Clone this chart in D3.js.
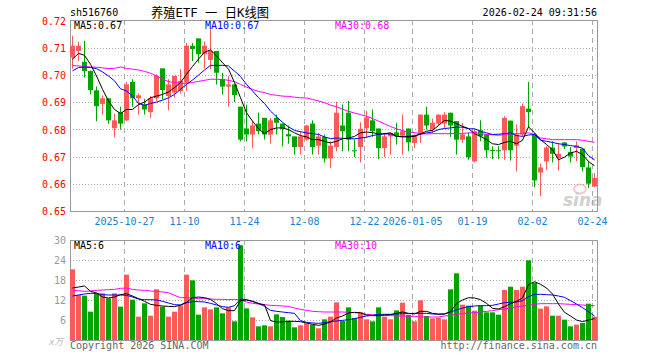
<!DOCTYPE html>
<html>
<head>
<meta charset="utf-8">
<script src="https://cdn.jsdelivr.net/npm/d3@7"></script>
<style>
  body { margin: 0; background: #fff; }
  svg text { font-family: "DejaVu Sans Mono", "Liberation Mono", monospace; font-size: 10px; }
</style>
</head>
<body>
<svg></svg>
<script>
// trading days shown on the chart
var dates = [
  '2025-10-14','2025-10-15','2025-10-16','2025-10-17','2025-10-20','2025-10-21','2025-10-22','2025-10-23','2025-10-24',
  '2025-10-27','2025-10-28','2025-10-29','2025-10-30','2025-10-31',
  '2025-11-03','2025-11-04','2025-11-05','2025-11-06','2025-11-07','2025-11-10','2025-11-11','2025-11-12','2025-11-13','2025-11-14',
  '2025-11-17','2025-11-18','2025-11-19','2025-11-20','2025-11-21','2025-11-24','2025-11-25','2025-11-26','2025-11-27','2025-11-28',
  '2025-12-01','2025-12-02','2025-12-03','2025-12-04','2025-12-05','2025-12-08','2025-12-09','2025-12-10','2025-12-11','2025-12-12',
  '2025-12-15','2025-12-16','2025-12-17','2025-12-18','2025-12-19','2025-12-22','2025-12-23','2025-12-24','2025-12-25','2025-12-26',
  '2025-12-29','2025-12-30','2025-12-31',
  '2026-01-05','2026-01-06','2026-01-07','2026-01-08','2026-01-09','2026-01-12','2026-01-13','2026-01-14','2026-01-15','2026-01-16',
  '2026-01-19','2026-01-20','2026-01-21','2026-01-22','2026-01-23','2026-01-26','2026-01-27','2026-01-28','2026-01-29','2026-01-30',
  '2026-02-02','2026-02-03','2026-02-04','2026-02-05','2026-02-06','2026-02-09','2026-02-10','2026-02-11','2026-02-12','2026-02-13',
  '2026-02-24'
];

var open = [
  0.7066,0.7090,0.7050,0.7016,0.6945,0.6895,0.6916,0.6806,0.6865,0.6835,
  0.6976,0.6916,0.6893,0.6865,0.6916,0.7026,0.6924,0.6937,0.6943,0.6974,
  0.7109,0.7136,0.7078,0.7057,0.7090,0.6986,0.6959,0.6967,0.6885,0.6805,
  0.6783,0.6823,0.6844,0.6783,0.6844,0.6823,0.6784,0.6776,0.6737,0.6764,
  0.6823,0.6742,0.6774,0.6695,0.6737,0.6816,0.6863,0.6725,0.6737,0.6806,
  0.6835,0.6805,0.6733,0.6776,0.6791,0.6779,0.6805,0.6752,0.6783,0.6856,
  0.6801,0.6823,0.6823,0.6863,0.6832,0.6764,0.6776,0.6684,0.6798,0.6783,
  0.6726,0.6725,0.6725,0.6834,0.6742,0.6783,0.6878,0.6783,0.6643,0.6684,
  0.6735,0.6697,0.6754,0.6719,0.6733,0.6731,0.6662,0.6592
];
var high = [
  0.7146,0.7124,0.7127,0.7018,0.6959,0.6927,0.6916,0.6859,0.6885,0.6976,
  0.6986,0.6934,0.6914,0.6924,0.7004,0.7026,0.6986,0.6998,0.7023,0.7119,
  0.7119,0.7136,0.7125,0.7171,0.7090,0.7010,0.6998,0.6967,0.6885,0.6893,
  0.6832,0.6863,0.6844,0.6844,0.6856,0.6823,0.6816,0.6776,0.6795,0.6818,
  0.6835,0.6789,0.6783,0.6758,0.6903,0.6893,0.6906,0.6764,0.6828,0.6870,
  0.6875,0.6805,0.6789,0.6789,0.6826,0.6856,0.6805,0.6783,0.6856,0.6885,
  0.6841,0.6856,0.6865,0.6863,0.6832,0.6826,0.6790,0.6804,0.6835,0.6783,
  0.6739,0.6740,0.6850,0.6834,0.6820,0.6897,0.6976,0.6789,0.6676,0.6740,
  0.6758,0.6752,0.6754,0.6737,0.6758,0.6731,0.6684,0.6641
];
var low = [
  0.7025,0.7053,0.6992,0.6930,0.6832,0.6856,0.6822,0.6773,0.6801,0.6832,
  0.6885,0.6856,0.6856,0.6844,0.6906,0.6912,0.6872,0.6918,0.6934,0.6943,
  0.7053,0.7047,0.7025,0.7023,0.6967,0.6930,0.6885,0.6902,0.6758,0.6758,
  0.6733,0.6783,0.6764,0.6749,0.6783,0.6739,0.6749,0.6709,0.6709,0.6760,
  0.6709,0.6709,0.6680,0.6660,0.6721,0.6721,0.6721,0.6700,0.6680,0.6770,
  0.6774,0.6693,0.6700,0.6709,0.6746,0.6709,0.6721,0.6733,0.6752,0.6801,
  0.6789,0.6816,0.6807,0.6774,0.6709,0.6752,0.6690,0.6680,0.6758,0.6697,
  0.6693,0.6693,0.6690,0.6687,0.6647,0.6776,0.6807,0.6589,0.6557,0.6653,
  0.6680,0.6651,0.6730,0.6680,0.6684,0.6647,0.6586,0.6589
];
var close = [
  0.7109,0.7109,0.7016,0.6946,0.6887,0.6916,0.6835,0.6835,0.6823,0.6967,
  0.6916,0.6927,0.6875,0.6916,0.6998,0.6946,0.6967,0.6998,0.6980,0.7109,
  0.7097,0.7078,0.7109,0.7090,0.7010,0.6959,0.6967,0.6928,0.6764,0.6783,
  0.6816,0.6795,0.6783,0.6835,0.6826,0.6804,0.6776,0.6737,0.6776,0.6816,
  0.6737,0.6776,0.6695,0.6742,0.6863,0.6795,0.6764,0.6721,0.6804,0.6846,
  0.6795,0.6733,0.6776,0.6789,0.6776,0.6795,0.6754,0.6779,0.6856,0.6816,
  0.6826,0.6856,0.6856,0.6816,0.6764,0.6783,0.6700,0.6795,0.6776,0.6725,
  0.6724,0.6723,0.6844,0.6725,0.6783,0.6887,0.6865,0.6614,0.6662,0.6735,
  0.6712,0.6712,0.6739,0.6702,0.6743,0.6663,0.6602,0.6623
];

var ma5 = [
  0.7060,0.7081,0.7074,0.7041,0.6998,0.6949,0.6906,0.6875,0.6860,0.6875,
  0.6875,0.6893,0.6902,0.6918,0.6924,0.6930,0.6939,0.6955,0.6974,0.7004,
  0.7033,0.7060,0.7085,0.7094,0.7072,0.7047,0.7023,0.6974,0.6918,0.6863,
  0.6832,0.6804,0.6786,0.6801,0.6807,0.6807,0.6801,0.6789,0.6779,0.6774,
  0.6764,0.6764,0.6758,0.6752,0.6758,0.6767,0.6770,0.6776,0.6789,0.6792,
  0.6790,0.6785,0.6786,0.6789,0.6776,0.6774,0.6774,0.6776,0.6785,0.6795,
  0.6798,0.6816,0.6835,0.6832,0.6823,0.6813,0.6805,0.6786,0.6776,0.6764,
  0.6749,0.6746,0.6754,0.6758,0.6749,0.6762,0.6811,0.6789,0.6764,0.6746,
  0.6727,0.6690,0.6700,0.6715,0.6721,0.6709,0.6684,0.6668
];
var ma10 = [
  0.7017,0.7029,0.7031,0.7029,0.7025,0.7013,0.6998,0.6980,0.6951,0.6943,
  0.6924,0.6897,0.6890,0.6897,0.6902,0.6909,0.6918,0.6930,0.6949,0.6967,
  0.6983,0.7001,0.7020,0.7037,0.7037,0.7037,0.7035,0.7016,0.6996,0.6967,
  0.6943,0.6918,0.6897,0.6869,0.6848,0.6828,0.6811,0.6798,0.6793,0.6789,
  0.6786,0.6783,0.6774,0.6768,0.6770,0.6769,0.6768,0.6767,0.6770,0.6773,
  0.6779,0.6783,0.6785,0.6785,0.6776,0.6776,0.6776,0.6779,0.6784,0.6789,
  0.6792,0.6801,0.6805,0.6807,0.6810,0.6810,0.6804,0.6804,0.6795,0.6789,
  0.6783,0.6784,0.6786,0.6789,0.6779,0.6776,0.6781,0.6783,0.6762,0.6758,
  0.6754,0.6749,0.6746,0.6742,0.6739,0.6733,0.6705,0.6690
];
var ma30 = [
  0.7036,0.7035,0.7032,0.7031,0.7030,0.7028,0.7025,0.7026,0.7031,0.7026,
  0.7023,0.7020,0.7015,0.7008,0.6998,0.6986,0.6977,0.6974,0.6971,0.6971,
  0.6974,0.6978,0.6982,0.6986,0.6986,0.6985,0.6982,0.6977,0.6967,0.6957,
  0.6949,0.6941,0.6937,0.6930,0.6927,0.6924,0.6923,0.6920,0.6918,0.6917,
  0.6912,0.6906,0.6900,0.6891,0.6885,0.6876,0.6868,0.6862,0.6856,0.6850,
  0.6842,0.6832,0.6822,0.6812,0.6804,0.6797,0.6792,0.6790,0.6786,0.6785,
  0.6786,0.6786,0.6786,0.6786,0.6786,0.6786,0.6789,0.6790,0.6786,0.6783,
  0.6782,0.6780,0.6783,0.6785,0.6786,0.6786,0.6789,0.6783,0.6770,0.6767,
  0.6764,0.6764,0.6764,0.6764,0.6764,0.6762,0.6758,0.6754
];

// volume, 万手
var vol = [
  21.2,13.5,13.3,8.5,14.0,14.0,12.5,14.0,10.0,19.6,
  12.1,7.0,11.0,7.3,15.2,10.0,7.0,8.5,10.4,19.6,
  17.9,7.6,9.8,9.2,9.8,8.0,9.8,5.6,28.4,9.5,
  6.8,4.1,4.4,4.1,7.7,6.9,5.8,3.8,4.4,5.0,
  4.6,3.5,6.2,7.0,11.3,5.7,9.8,6.6,8.3,6.2,
  5.6,9.8,7.0,6.2,8.9,11.2,7.5,5.6,11.9,7.2,
  6.5,6.7,6.2,15.2,20.0,10.6,10.3,8.8,10.3,8.3,
  8.3,7.6,15.0,16.0,15.0,16.0,23.9,17.2,9.4,10.1,
  7.3,7.3,6.1,4.1,4.6,5.1,10.9,7.0
];
var volMa5 = [
  15.6,15.9,16.2,14.6,14.1,12.9,12.6,12.9,13.6,13.9,
  13.2,12.4,11.6,10.7,10.4,10.2,10.1,10.0,10.5,11.3,
  12.7,12.9,12.7,12.2,10.9,9.4,8.8,8.8,11.8,12.0,
  11.6,10.9,10.6,5.8,5.4,5.4,5.6,5.6,5.5,5.1,
  4.7,4.4,4.8,5.4,6.6,7.2,8.1,8.3,8.2,7.5,
  7.3,7.3,7.5,7.6,8.0,8.4,8.0,7.8,8.6,8.6,
  8.0,7.7,7.8,8.5,10.9,12.0,12.7,12.6,12.1,11.0,
  9.5,9.3,10.0,10.9,11.6,12.6,16.6,17.5,16.7,15.6,
  13.8,10.8,8.3,7.2,6.0,5.5,6.0,6.4
];
var volMa10 = [
  13.2,13.5,13.8,14.0,14.0,13.6,13.5,13.5,13.5,13.4,
  12.9,12.3,12.1,12.1,12.0,11.6,11.1,10.6,10.5,11.2,
  11.5,11.5,11.4,11.0,10.5,10.0,9.8,10.3,12.3,12.1,
  11.6,11.0,10.1,8.9,8.6,8.4,8.2,8.0,5.8,5.3,
  5.1,5.0,5.2,5.5,5.7,5.9,6.1,6.4,6.8,7.2,
  7.4,7.7,7.7,7.7,7.8,7.9,7.9,8.0,8.0,8.0,
  7.8,7.8,7.8,8.4,9.0,9.6,10.0,10.2,10.3,10.3,
  10.4,10.8,11.2,11.3,11.4,11.8,13.0,13.7,13.7,13.6,
  13.5,13.2,12.8,11.8,10.8,9.7,8.5,7.2
];
var volMa30 = [
  14.9,14.8,14.6,14.7,14.9,15.0,15.1,15.2,15.5,15.6,
  15.2,15.0,14.9,14.7,14.6,14.4,14.2,13.4,12.7,12.7,
  12.6,12.4,12.4,12.3,12.2,12.2,12.1,12.2,12.0,11.4,
  11.0,10.8,10.6,10.4,10.3,10.2,10.1,9.6,9.2,8.9,
  8.6,8.5,8.4,8.4,8.4,8.4,8.3,8.2,8.0,7.7,
  7.6,7.4,7.4,7.3,7.2,7.2,7.1,7.1,6.9,6.9,
  6.9,6.9,7.2,7.4,7.7,7.9,8.1,8.2,8.4,8.6,
  8.8,9.1,9.3,9.6,10.0,10.2,10.4,10.7,10.9,10.9,
  10.9,10.9,10.8,10.7,10.6,10.5,10.4,10.3
];

var priceTicks = [0.65, 0.66, 0.67, 0.68, 0.69, 0.70, 0.71, 0.72];
var volTicks = [6, 12, 18, 24, 30];
var tickDates = ['2025-10-27','2025-11-10','2025-11-24','2025-12-08','2025-12-22','2026-01-05','2026-01-19','2026-02-02','2026-02-24'];
var tickLabels = ['2025-10-27','11-10','11-24','12-08','12-22','2026-01-05','01-19','02-02','02-24'];

var RED = '#fa5a5a', GREEN = '#02a402', GRID = '#aaa', BORDER = '#999';

var svg = d3.select('svg').attr('width', 660).attr('height', 360);

var x = d3.scaleBand().domain(dates).range([70, 597]).paddingInner(1/6);
var yp = d3.scaleLinear().domain([0.65, 0.72]).range([211.5, 21]);
var yv = d3.scaleLinear().domain([0, 30]).range([340, 240]);

var mid = function(d) { return x(d) + 2.5; };
var crisp = function(v) { return Math.floor(v) + 0.5; };

// header
svg.append('text').attr('x', 70).attr('y', 16).attr('fill', '#000').text('sh516760');
svg.append('text').attr('x', 151).attr('y', 17).attr('fill', '#000')
    .style('font-size', '13px')
    .attr('textLength', 118).attr('lengthAdjust', 'spacingAndGlyphs')
    .style('font-family', '"DejaVu Sans Mono", "Noto Sans CJK SC", monospace')
    .text('养殖ETF 一 日K线图');
svg.append('text').attr('x', 597).attr('y', 16).attr('text-anchor', 'end').attr('fill', '#000')
    .text('2026-02-24 09:31:56');

// panels: grid + frame
function panel(top, bottom, yScale, ticks) {
  var g = svg.append('g');
  g.selectAll('.hg').data(ticks).enter().append('line')
      .attr('x1', 70).attr('x2', 597)
      .attr('y1', function(d) { return crisp(yScale(d)); })
      .attr('y2', function(d) { return crisp(yScale(d)); })
      .attr('stroke', GRID).attr('stroke-dasharray', '1,2');
  g.selectAll('.vg').data(tickDates).enter().append('line')
      .attr('x1', function(d) { return x(d) + 0.5; })
      .attr('x2', function(d) { return x(d) + 0.5; })
      .attr('y1', top).attr('y2', bottom)
      .attr('stroke', GRID).attr('stroke-dasharray', '5,4');
  g.append('rect').attr('x', 70.5).attr('y', top + 0.5)
      .attr('width', 527).attr('height', bottom - top)
      .attr('fill', 'none').attr('stroke', BORDER);
  return g;
}
panel(20, 211, yp, priceTicks.slice(1, -1));
panel(240, 340, yv, volTicks.slice(0, -1));

// axes
var ax = svg.append('g').attr('transform', 'translate(70,0)')
    .call(d3.axisLeft(yp).tickValues(priceTicks).tickFormat(d3.format('.2f')).tickSize(0).tickPadding(4));
ax.select('.domain').remove();
ax.selectAll('text').attr('fill', '#f00').style('font-family', '"DejaVu Sans Mono", monospace').style('font-size', '10px');

var av = svg.append('g').attr('transform', 'translate(70,0)')
    .call(d3.axisLeft(yv).tickValues(volTicks).tickSize(0).tickPadding(4));
av.select('.domain').remove();
av.selectAll('text').attr('fill', '#999').style('font-family', '"DejaVu Sans Mono", monospace').style('font-size', '10px');

svg.selectAll('.dl').data(tickDates).enter().append('text')
    .attr('x', function(d) { return x(d) + 0.5; })
    .attr('y', 225)
    .attr('text-anchor', 'middle')
    .attr('fill', '#1a7fd4')
    .text(function(d, i) { return tickLabels[i]; });

// watermark
var wm = svg.append('g').attr('opacity', 0.45);
wm.append('ellipse').attr('cx', 580).attr('cy', 189).attr('rx', 6).attr('ry', 4.5)
    .attr('fill', 'none').attr('stroke', '#e88').attr('stroke-width', 2);
wm.append('text').attr('x', 563).attr('y', 206)
    .style('font-family', '"DejaVu Sans", sans-serif').style('font-size', '17px')
    .style('font-weight', 'bold').style('font-style', 'italic')
    .attr('fill', '#999').text('sina');

// candles
var idx = d3.range(dates.length);
var candles = svg.append('g');
candles.selectAll('line').data(idx).enter().append('line')
    .attr('x1', function(i) { return mid(dates[i]); })
    .attr('x2', function(i) { return mid(dates[i]); })
    .attr('y1', function(i) { return yp(high[i]); })
    .attr('y2', function(i) { return yp(low[i]); })
    .attr('stroke', function(i) { return close[i] > open[i] ? RED : GREEN; });
candles.selectAll('rect').data(idx).enter().append('rect')
    .attr('x', function(i) { return x(dates[i]); })
    .attr('width', x.bandwidth())
    .attr('y', function(i) { return yp(Math.max(open[i], close[i])); })
    .attr('height', function(i) { return Math.max(1, Math.abs(yp(open[i]) - yp(close[i]))); })
    .attr('fill', function(i) { return close[i] > open[i] ? RED : GREEN; });

// volume bars
svg.append('g').selectAll('rect').data(idx).enter().append('rect')
    .attr('x', function(i) { return x(dates[i]); })
    .attr('width', x.bandwidth())
    .attr('y', function(i) { return yv(vol[i]); })
    .attr('height', function(i) { return yv(0) - yv(vol[i]); })
    .attr('fill', function(i) { return close[i] > open[i] ? RED : GREEN; });

// moving averages
function maLine(values, yScale, color) {
  var line = d3.line()
      .x(function(v, i) { return mid(dates[i]); })
      .y(function(v) { return yScale(v); });
  svg.append('path').datum(values)
      .attr('d', line)
      .attr('fill', 'none')
      .attr('stroke', color)
      .attr('stroke-width', 1);
}
maLine(ma30, yp, '#f0f');
maLine(ma10, yp, '#00f');
maLine(ma5, yp, '#000');
maLine(volMa30, yv, '#f0f');
maLine(volMa10, yv, '#00f');
maLine(volMa5, yv, '#000');

// legends
var legends = [
  { x: 74, y: 29, c: '#000', t: 'MA5:0.67' },
  { x: 205, y: 29, c: '#00f', t: 'MA10:0.67' },
  { x: 335, y: 29, c: '#f0f', t: 'MA30:0.68' },
  { x: 74, y: 249, c: '#000', t: 'MA5:6' },
  { x: 205, y: 249, c: '#00f', t: 'MA10:6' },
  { x: 335, y: 249, c: '#f0f', t: 'MA30:10' }
];
svg.selectAll('.lg').data(legends).enter().append('text')
    .attr('x', function(d) { return d.x; })
    .attr('y', function(d) { return d.y; })
    .attr('fill', function(d) { return d.c; })
    .text(function(d) { return d.t; });

// footer
svg.append('text').attr('x', 49).attr('y', 345).attr('fill', '#bbb')
    .style('font-style', 'italic').style('font-family', '"DejaVu Sans", "Noto Sans CJK SC", sans-serif')
    .style('font-size', '9px').text('x万');
svg.append('text').attr('x', 70).attr('y', 349).attr('fill', '#666').text('Copyright 2026 SINA.COM');
svg.append('text').attr('x', 597).attr('y', 349).attr('text-anchor', 'end').attr('fill', '#666')
    .text('http://finance.sina.com.cn');
</script>
</body>
</html>
